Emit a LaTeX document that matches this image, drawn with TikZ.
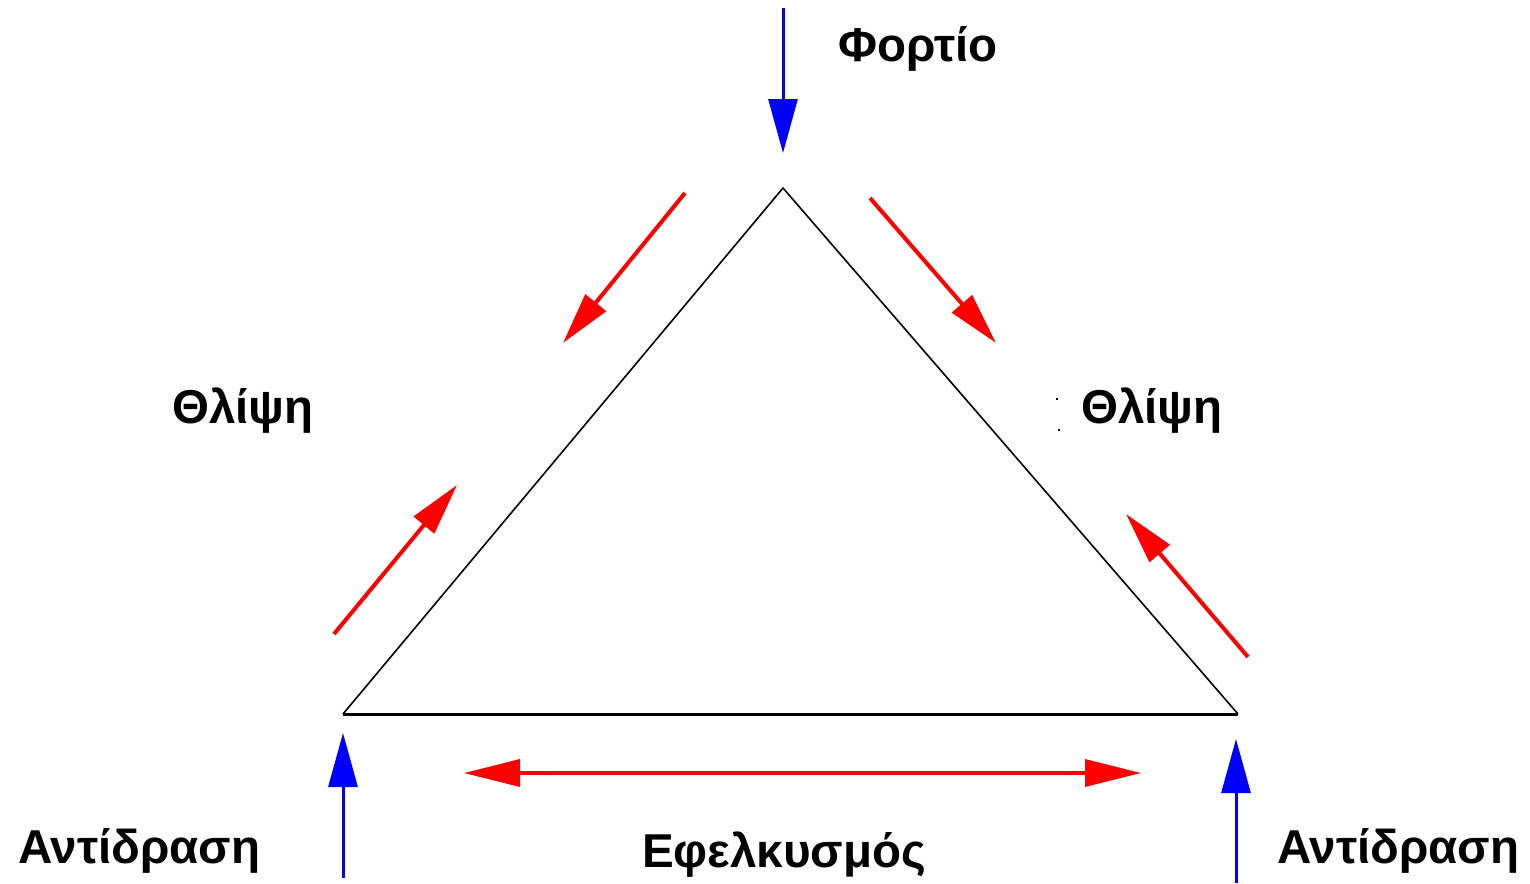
\documentclass[tikz,border=0pt]{standalone}
\usepackage{fontspec}
\setmainfont{Liberation Sans}
\usetikzlibrary{arrows.meta}
\begin{document}
\begin{tikzpicture}[x=1pt,y=-1pt,
  lbl/.style={font=\fontsize{47.5}{52}\selectfont\bfseries, inner sep=0pt, anchor=base west},
  bluearrow/.style={draw=blue, line width=3pt, -{Triangle[length=54pt,width=29pt]}, blue},
  redarrow/.style={draw=red, line width=4pt, -{Triangle[length=52pt,width=26pt]}, red},
  redboth/.style={draw=red, line width=3.2pt, {Triangle[length=56pt,width=27pt]}-{Triangle[length=56pt,width=27pt]}, red},
  side/.style={draw=black, line width=1.6pt},
  base/.style={draw=black, line width=3pt}]
\useasboundingbox (0,0) rectangle (1530,883);
% triangle vertices
\coordinate (apex) at (783,188);
\coordinate (bl) at (343,714);
\coordinate (br) at (1238,714);
\draw[side] (bl) -- (apex) -- (br);
\draw[base] (bl) -- (br);
% load
\coordinate (lt) at (783,8);
\coordinate (lh) at (783,153);
\draw[bluearrow] (lt) -- (lh);
% reactions
\coordinate (rlt) at (343,878);
\coordinate (rlh) at (343,733);
\draw[bluearrow] (rlt) -- (rlh);
\coordinate (rrt) at (1236,883);
\coordinate (rrh) at (1236,739);
\draw[bluearrow] (rrt) -- (rrh);
% tension
\coordinate (tl) at (464,773);
\coordinate (tr) at (1141,773);
\draw[redboth] (tl) -- (tr);
% compression arrows
\coordinate (a1t) at (685,193);
\coordinate (a1h) at (563,343);
\draw[redarrow] (a1t) -- (a1h);
\coordinate (a2t) at (870,198);
\coordinate (a2h) at (996,343);
\draw[redarrow] (a2t) -- (a2h);
\coordinate (a3t) at (334,634);
\coordinate (a3h) at (457,485);
\draw[redarrow] (a3t) -- (a3h);
\coordinate (a4t) at (1248,657);
\coordinate (a4h) at (1126,514);
\draw[redarrow] (a4t) -- (a4h);
% labels
\node[lbl] (fortio) at (838,62) {Φορτίο};
\node[lbl] (thl) at (172,423) {Θλίψη};
\node[lbl] (thr) at (1081,423) {Θλίψη};
\node[lbl] (antl) at (18,863) {Αντίδραση};
\node[lbl] (antr) at (1277,863) {Αντίδραση};
\node[lbl] (efel) at (642,867) {Εφελκυσμός};
% tiny marks
\fill (1056,398) rectangle (1058,400);
\fill (1058,429) rectangle (1060,431);
\end{tikzpicture}
\end{document}
